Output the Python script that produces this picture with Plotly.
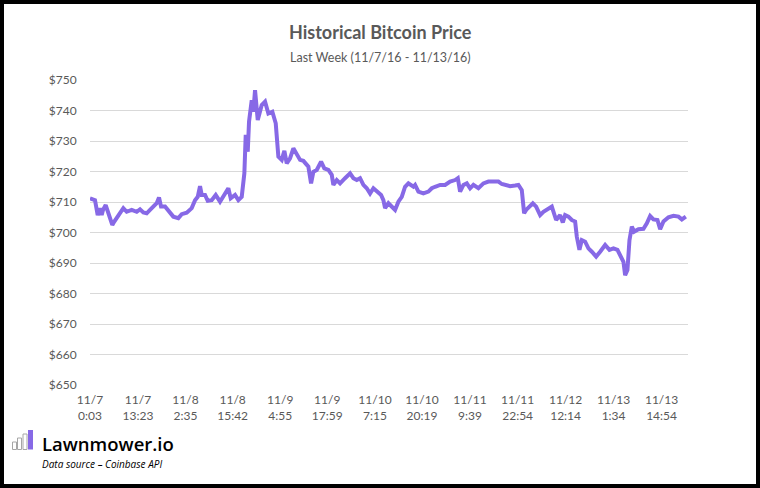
import pandas as pd
import plotly.graph_objects as go

# Bitcoin price, last week (11/7/16 - 11/13/16)
# hours counted from 11/7/16 0:03, price in USD
hours = [0.00, 1.39, 2.14, 2.78, 3.25, 3.61, 4.36, 4.92, 5.56, 6.20,
         6.75, 7.87, 9.26, 10.20, 11.59, 12.98, 13.90, 14.82, 15.76, 16.68,
         17.60, 18.54, 19.18, 19.74, 20.85, 22.24, 23.16, 24.55, 25.49, 26.88,
         28.27, 29.19, 29.94, 30.58, 31.05, 31.97, 32.72, 33.83, 34.94, 36.14,
         37.06, 38.45, 39.11, 40.31, 41.23, 42.17, 42.90, 43.28, 43.84, 44.20,
         44.95, 45.40, 45.87, 46.62, 47.73, 48.65, 49.57, 50.68, 51.62, 52.35,
         53.29, 54.02, 54.68, 55.60, 56.52, 57.46, 58.38, 59.30, 60.69, 61.44,
         62.08, 63.02, 64.22, 65.13, 66.25, 67.19, 67.64, 68.58, 69.50, 70.89,
         72.28, 73.20, 74.14, 75.06, 75.98, 76.92, 77.84, 78.76, 79.70, 80.90,
         81.54, 82.01, 82.93, 83.87, 84.79, 85.71, 86.65, 87.57, 88.49, 89.88,
         90.35, 91.27, 92.66, 94.05, 94.99, 95.91, 97.30, 98.69, 100.08, 101.47,
         102.22, 102.86, 103.78, 104.72, 105.64, 106.56, 107.95, 109.34, 110.73, 112.12,
         113.51, 114.45, 115.84, 116.76, 118.15, 119.07, 120.01, 120.65, 121.21, 122.13,
         123.07, 123.99, 125.10, 126.02, 127.41, 128.35, 129.55, 130.66, 131.41, 132.05,
         132.97, 133.91, 134.83, 135.30, 136.03, 136.69, 137.61, 138.53, 139.47, 140.67,
         141.78, 143.17, 144.37, 145.48, 146.59, 147.34, 148.26, 148.73, 149.37, 149.93,
         150.59, 151.23, 152.43, 153.82, 154.76, 155.68, 156.60, 157.71, 158.46, 159.38,
         160.77, 162.16, 163.55, 164.49, 165.60]
price = [711.2, 710.6, 705.7, 708.0, 705.7, 707.4, 709.0, 706.8, 704.6, 702.5,
         703.6, 705.7, 708.0, 706.8, 707.4, 706.8, 707.6, 706.6, 706.3, 707.4,
         708.5, 709.6, 711.5, 708.5, 708.5, 706.3, 705.2, 704.7, 706.0, 706.5,
         708.0, 710.6, 711.7, 715.2, 712.3, 712.3, 710.4, 710.6, 712.3, 710.1,
         711.7, 714.5, 711.2, 712.3, 710.6, 711.7, 719.4, 732.0, 726.5, 736.3,
         743.4, 739.6, 746.7, 736.9, 741.8, 742.9, 739.0, 739.6, 735.8, 724.9,
         723.8, 726.8, 722.7, 724.3, 727.6, 725.4, 723.8, 723.5, 721.6, 716.1,
         719.9, 720.5, 723.2, 721.0, 720.5, 718.9, 715.6, 717.2, 716.1, 717.8,
         719.4, 717.8, 717.2, 717.8, 715.6, 714.5, 712.8, 714.5, 713.4, 712.3,
         710.6, 708.0, 709.6, 708.5, 707.4, 710.1, 711.7, 715.0, 716.1, 715.0,
         715.6, 713.4, 712.8, 713.4, 714.5, 715.0, 715.6, 715.6, 716.7, 717.2,
         717.8, 713.4, 715.6, 716.1, 714.5, 715.6, 714.5, 716.1, 716.7, 716.7,
         716.7, 715.9, 715.6, 715.2, 715.4, 715.6, 713.9, 706.3, 707.4, 708.5,
         709.6, 708.5, 705.7, 706.8, 708.0, 708.5, 704.1, 705.7, 703.3, 705.7,
         705.2, 704.1, 703.6, 698.6, 694.3, 697.5, 697.0, 694.8, 693.7, 692.1,
         693.7, 695.9, 694.3, 694.8, 694.3, 692.6, 690.4, 686.0, 687.7, 697.5,
         701.9, 700.3, 701.1, 701.2, 703.0, 705.4, 704.3, 704.1, 701.1, 703.6,
         705.0, 705.5, 705.2, 704.3, 705.2]

label_dates = ['2016-11-07 00:03', '2016-11-07 13:23', '2016-11-08 02:35',
               '2016-11-08 15:42', '2016-11-09 04:55', '2016-11-09 17:59',
               '2016-11-10 07:15', '2016-11-10 20:19', '2016-11-11 09:39',
               '2016-11-11 22:54', '2016-11-12 12:14', '2016-11-13 01:34',
               '2016-11-13 14:54']
label_text = ['11/7<br>0:03', '11/7<br>13:23', '11/8<br>2:35', '11/8<br>15:42',
              '11/9<br>4:55', '11/9<br>17:59', '11/10<br>7:15', '11/10<br>20:19',
              '11/11<br>9:39', '11/11<br>22:54', '11/12<br>12:14', '11/13<br>1:34',
              '11/13<br>14:54']
y_ticks = [650, 660, 670, 680, 690, 700, 710, 720, 730, 740, 750]

start = pd.Timestamp('2016-11-07 00:03')
times = start + pd.to_timedelta(hours, unit='h')

GREY = '#595959'
PURPLE = '#8769e6'

# page layout in pixels
W, H = 760, 488
L, R, T, B = 90, 688, 80, 385


def px(x):
    return (x - L) / (R - L)


def py(y):
    return (B - y) / (B - T)


fig = go.Figure()
fig.add_trace(go.Scatter(x=times, y=price, mode='lines',
                         line=dict(color=PURPLE, width=4),
                         hoverinfo='x+y'))

shapes = [
    # black frame round the picture
    dict(type='rect', xref='paper', yref='paper',
         x0=px(2), x1=px(758), y0=py(486), y1=py(2),
         line=dict(color='black', width=4), layer='above'),
    # little logo bars
    dict(type='rect', xref='paper', yref='paper', x0=px(12.5), x1=px(16.5),
         y0=py(449.5), y1=py(442), line=dict(color='#a6a6a6', width=1)),
    dict(type='rect', xref='paper', yref='paper', x0=px(17.5), x1=px(21.5),
         y0=py(449.5), y1=py(438), line=dict(color='#a6a6a6', width=1)),
    dict(type='rect', xref='paper', yref='paper', x0=px(23), x1=px(27),
         y0=py(449.5), y1=py(434), line=dict(color='#a6a6a6', width=1)),
    dict(type='rect', xref='paper', yref='paper', x0=px(28), x1=px(33),
         y0=py(449.5), y1=py(430), fillcolor=PURPLE, line=dict(width=0)),
]

annotations = [
    dict(text='<b>Historical Bitcoin Price</b>', x=px(380), y=py(32),
         font=dict(family='Lato', size=18, color=GREY)),
    dict(text='Last Week (11/7/16 - 11/13/16)', x=px(380), y=py(57),
         font=dict(family='Lato', size=12.5, color=GREY)),
    dict(text='Lawnmower.io', x=px(40), y=py(443), xanchor='left',
         font=dict(family='Open Sans', size=18.5, color='black', weight=600)),
    dict(text='<i>Data source \u2013 Coinbase API</i>', x=px(40), y=py(464),
         xanchor='left', font=dict(family='Open Sans', size=10, color='black')),
]
for a in annotations:
    a.update(xref='paper', yref='paper', showarrow=False)
    a.setdefault('xanchor', 'center')
    a.setdefault('yanchor', 'middle')

fig.update_layout(
    width=W, height=H,
    margin=dict(l=L, r=W - R, t=T, b=H - B),
    paper_bgcolor='white', plot_bgcolor='white',
    showlegend=False,
    font=dict(family='Lato', size=12, color=GREY),
    shapes=shapes,
    annotations=annotations,
)
fig.update_xaxes(type='date', range=[start, start + pd.Timedelta(hours=166.2)],
                 tickvals=pd.to_datetime(label_dates), ticktext=label_text,
                 showgrid=False, zeroline=False, showline=False,
                 ticks='outside', ticklen=4, tickcolor='rgba(0,0,0,0)',
                 tickfont=dict(family='Lato', size=12, color=GREY))
fig.update_yaxes(range=[650, 750], tickvals=y_ticks,
                 ticktext=['$' + str(v) for v in y_ticks],
                 showgrid=True, gridcolor='#d9d9d9', gridwidth=1,
                 zeroline=False, showline=False,
                 ticks='outside', ticklen=10, tickcolor='rgba(0,0,0,0)',
                 tickfont=dict(family='Lato', size=12, color=GREY))

# the page itself should not add a margin round the figure
fig.write_html('out.html', config={'displayModeBar': False},
               post_script="document.body.style.margin='0';"
                           "document.body.style.overflow='hidden';")
